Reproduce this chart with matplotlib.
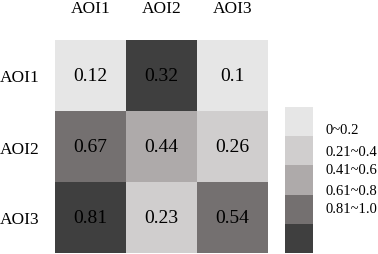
import matplotlib.pyplot as plt
import numpy as np
from matplotlib.colors import ListedColormap

plt.rcParams.update({'font.family': ['Liberation Serif', 'DejaVu Serif']})

# Daten
aois = ['AOI1', 'AOI2', 'AOI3']
werte = [[0.12, 0.32, 0.1],
         [0.67, 0.44, 0.26],
         [0.81, 0.23, 0.54]]
# Farbstufe je Zelle (wie im Original eingefaerbt)
stufen = [[0, 4, 0],
          [3, 2, 1],
          [4, 1, 3]]
legende_labels = ['0~0.2', '0.21~0.4', '0.41~0.6', '0.61~0.8', '0.81~1.0']
farben = ['#e6e6e6', '#d0cece', '#aeaaaa', '#747070', '#3f3f3f']

W, H = 378, 255
fig = plt.figure(figsize=(W / 100, H / 100), dpi=100)

cmap = ListedColormap(farben)

# Heatmap
ax = fig.add_axes([55 / W, 1 - 254 / H, 213 / W, 213 / H])
ax.imshow(np.array(stufen), cmap=cmap, vmin=-0.5, vmax=4.5, aspect='auto')
for i in range(3):
    for j in range(3):
        ax.text(j, i, f'{werte[i][j]:g}', ha='center', va='center', fontsize=14, color='black')
ax.set_xticks(range(3))
ax.set_xticklabels(aois, fontsize=12.5)
ax.set_yticks(range(3))
ax.set_yticklabels(aois, fontsize=12.5)
ax.xaxis.tick_top()
ax.tick_params(axis='x', length=0, pad=17)
ax.tick_params(axis='y', length=0, pad=11)
for s in ax.spines.values():
    s.set_visible(False)

# Legende
lax = fig.add_axes([285 / W, 1 - 254 / H, 28 / W, 146 / H])
lax.imshow(np.arange(5).reshape(-1, 1), cmap=cmap, vmin=-0.5, vmax=4.5, aspect='auto')
lax.axis('off')

label_y = [131, 152, 171, 192, 210]
for lbl, y in zip(legende_labels, label_y):
    fig.text(325 / W, 1 - y / H, lbl, ha='left', va='center', fontsize=10.5)

plt.savefig('out.png', dpi=100)
